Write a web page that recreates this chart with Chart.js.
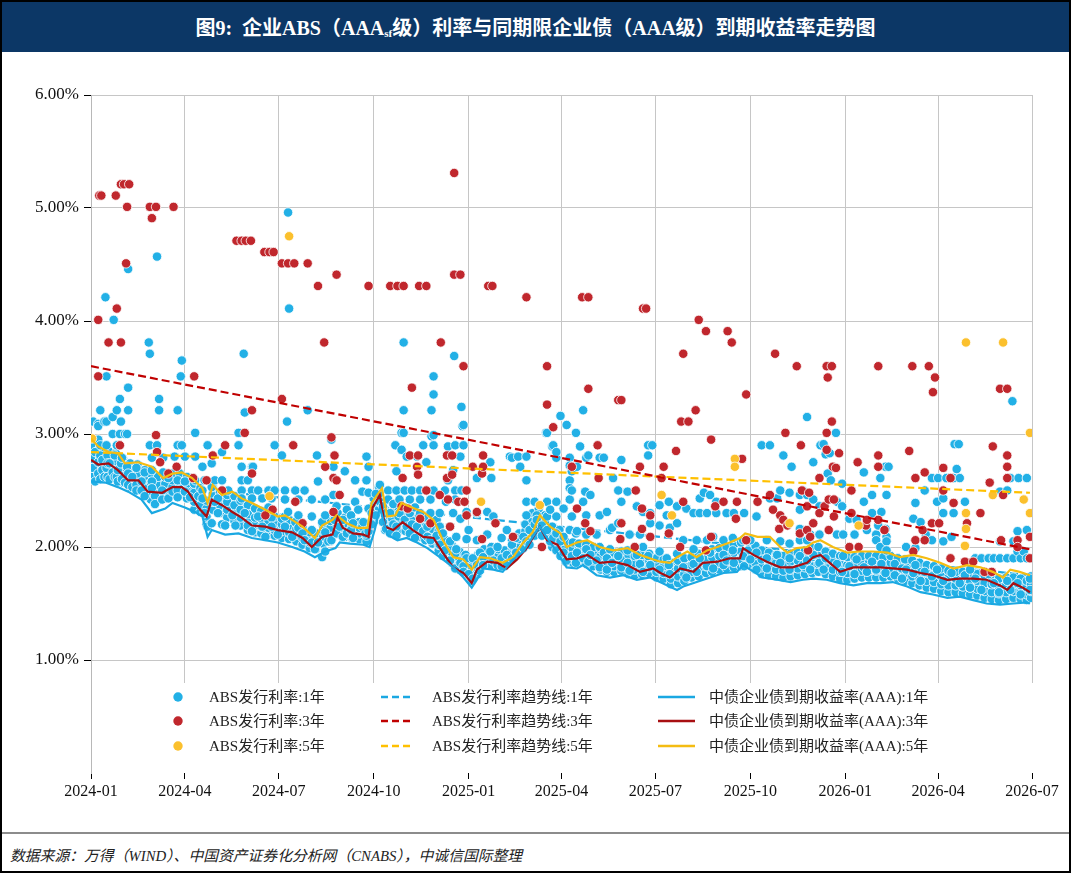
<!DOCTYPE html>
<html>
<head>
<meta charset="utf-8">
<script src="https://cdn.jsdelivr.net/npm/chart.js@4.4.1/dist/chart.umd.min.js"></script>
<style>
  html, body { margin: 0; padding: 0; background: #fff; }
  #frame { position: relative; width: 1067px; height: 869px; border: 2px solid #000; overflow: hidden; background: #fff; }
  #title { position: absolute; left: 0; top: 0; width: 1067px; height: 50px; background: #0c3766; color: #fff;
    font: bold 20px "Liberation Serif", "Noto Sans CJK SC", serif; text-align: center; line-height: 52px; }
  #title sub { font-size: 11px; vertical-align: -2px; line-height: 0; }
  #wrap { position: absolute; left: -2px; top: 50px; width: 1071px; height: 778px; }
  #rule { position: absolute; left: 0; top: 830px; width: 1067px; height: 2px; background: #8c8c8c; }
  #source { position: absolute; left: 8px; top: 842px; font: italic 14.8px "Liberation Serif", "Noto Sans CJK SC", serif; color: #222; }
</style>
</head>
<body>
<div id="frame">
  <div id="title">图9:&nbsp; 企业ABS（AAA<sub>sf</sub>级）利率与同期限企业债（AAA级）到期收益率走势图</div>
  <div id="wrap"><canvas id="chart" width="1071" height="778" style="width:1071px;height:778px"></canvas></div>
  <div id="rule"></div>
  <div id="source">数据来源：万得（WIND）、中国资产证券化分析网（CNABS），中诚信国际整理</div>
</div>
<script>
// x values are days counted from 2024-01-01
const xTickDays = [0, 91, 182, 274, 366, 456, 547, 639, 731, 821, 912];
const xTickLabels = ['2024-01', '2024-04', '2024-07', '2024-10', '2025-01', '2025-04',
  '2025-07', '2025-10', '2026-01', '2026-04', '2026-07'];

// 中债企业债到期收益率(AAA), [day, %]
const cb1y = [[0,2.58],[14,2.57],[26,2.53],[36,2.49],[49,2.42],[59,2.30],[72,2.34],[79,2.39],[91,2.35],[101,2.31],[108,2.27],[113,2.09],[117,2.15],[130,2.11],[143,2.12],[156,2.08],[169,2.06],[181,2.04],[195,2.00],[207,1.96],[217,1.91],[227,1.96],[237,1.99],[241,2.04],[251,2.03],[264,2.02],[270,2.00],[275,2.15],[280,2.35],[287,2.11],[297,2.06],[306,2.08],[316,2.04],[326,1.99],[332,1.95],[341,1.89],[351,1.82],[361,1.73],[369,1.64],[374,1.71],[380,1.81],[390,1.80],[399,1.78],[409,1.89],[419,1.96],[428,2.09],[435,2.18],[442,2.08],[452,1.95],[461,1.82],[471,1.81],[477,1.84],[490,1.75],[503,1.73],[516,1.75],[529,1.71],[542,1.73],[554,1.68],[568,1.62],[574,1.65],[587,1.69],[600,1.73],[613,1.77],[626,1.78],[632,1.84],[639,1.80],[651,1.73],[665,1.71],[678,1.69],[690,1.71],[700,1.72],[713,1.71],[726,1.68],[739,1.66],[752,1.68],[765,1.68],[777,1.69],[791,1.65],[804,1.60],[816,1.58],[830,1.55],[842,1.56],[855,1.53],[868,1.50],[881,1.49],[894,1.50],[907,1.51],[910,1.50]];
const cb3y = [[0,2.77],[7,2.73],[17,2.74],[26,2.68],[36,2.59],[46,2.59],[55,2.49],[69,2.48],[79,2.53],[88,2.53],[94,2.49],[104,2.35],[112,2.27],[117,2.42],[127,2.37],[137,2.31],[146,2.26],[156,2.19],[169,2.18],[181,2.15],[195,2.13],[205,2.08],[214,2.00],[224,2.09],[234,2.11],[239,2.26],[244,2.17],[254,2.12],[264,2.11],[269,2.09],[273,2.35],[280,2.46],[285,2.18],[293,2.15],[302,2.22],[312,2.15],[322,2.09],[332,2.08],[341,1.95],[351,1.82],[361,1.77],[369,1.68],[374,1.80],[384,1.87],[394,1.86],[403,1.81],[413,1.89],[423,2.00],[430,2.11],[435,2.18],[442,2.06],[452,2.02],[461,1.89],[471,1.90],[481,1.93],[493,1.86],[506,1.87],[520,1.84],[532,1.78],[545,1.81],[552,1.77],[561,1.73],[571,1.81],[584,1.78],[593,1.86],[607,1.87],[619,1.90],[629,1.90],[632,1.99],[642,1.93],[655,1.87],[668,1.82],[680,1.82],[694,1.86],[700,1.91],[707,1.93],[716,1.86],[726,1.78],[739,1.82],[752,1.82],[765,1.82],[777,1.81],[791,1.80],[804,1.77],[816,1.75],[830,1.71],[842,1.72],[855,1.72],[868,1.71],[881,1.66],[888,1.62],[894,1.68],[903,1.64],[910,1.60]];
const cb5y = [[0,2.96],[7,2.89],[17,2.84],[26,2.83],[33,2.74],[46,2.75],[59,2.71],[70,2.61],[79,2.65],[88,2.66],[98,2.61],[108,2.52],[113,2.39],[118,2.55],[127,2.46],[137,2.49],[146,2.43],[156,2.39],[169,2.33],[181,2.27],[188,2.28],[195,2.24],[205,2.18],[217,2.08],[224,2.19],[234,2.24],[238,2.28],[248,2.21],[258,2.17],[268,2.17],[272,2.39],[282,2.52],[287,2.27],[295,2.28],[301,2.39],[311,2.35],[322,2.31],[332,2.24],[341,2.06],[351,1.91],[361,1.89],[369,1.80],[377,1.91],[387,1.90],[399,1.86],[409,1.91],[419,2.04],[428,2.13],[435,2.28],[445,2.18],[455,2.12],[461,2.00],[471,2.04],[481,2.06],[493,2.00],[506,1.97],[520,1.99],[532,1.93],[545,1.89],[552,1.87],[561,1.86],[568,1.91],[578,1.96],[587,1.91],[597,1.97],[607,2.00],[619,2.04],[629,2.08],[634,2.12],[646,2.09],[658,2.09],[668,2.00],[675,1.95],[684,1.99],[694,2.00],[700,2.04],[707,2.06],[719,2.00],[733,1.95],[745,1.96],[758,1.96],[772,1.95],[784,1.91],[797,1.93],[810,1.90],[823,1.86],[836,1.81],[849,1.84],[862,1.82],[874,1.78],[884,1.73],[891,1.80],[900,1.78],[910,1.75]];

// ABS发行利率趋势线, end points [day, %]
const trend1y = [[0,2.61],[910,1.75]];
const trend3y = [[0,3.60],[910,1.98]];
const trend5y = [[0,2.84],[910,2.48]];

// ABS发行利率 dots, rows of [day, rate, rate, ...]
const abs1y = [
  [0,2.90,2.78,2.62],[2,3.11,2.70],[4,2.84,2.58],[7,3.09,3.07,2.95,2.75,2.65],[9,3.21,2.90,2.81,2.60],[11,2.77,2.68],
  [13,3.11,2.62],[14,4.21],[15,3.51,3.11,2.90,2.70],[16,2.81,2.74,2.62],[18,2.74,2.60],[21,3.15,3.00,2.66],[22,4.01],
  [23,2.81,2.62],[25,3.21,2.90,2.62],[26,2.68,2.58],[28,3.31,3.00],[29,3.11,2.74],[30,2.79,2.60],[33,3.00,2.57],
  [35,3.00,2.71],[36,4.46,3.41,3.21,2.65,2.55],[40,2.62,2.53],[44,2.70,2.55,2.50],[49,2.58,2.50],[52,2.66,2.45],
  [56,3.81],[57,3.71,2.90],[59,2.79,2.68,2.58,2.52],[62,2.45,2.38],[64,4.57,2.90],[66,3.31,3.21],[69,2.50,2.42],
  [70,2.79,2.66],[75,2.61,2.43],[79,2.49],[81,2.80],[84,3.21,2.90,2.59,2.50,2.44],[87,3.51],[88,3.65,2.90],
  [91,2.80,2.58,2.49],[96,2.44],[101,3.01,2.80,2.59],[104,2.45],[108,2.71,2.50,2.43],
  [110,2.59,2.30],[113,2.90,2.18],[117,2.74,2.53,2.21],[120,2.59,2.40],[123,2.43,2.30],[127,2.84,2.59,2.50,2.20],
  [130,2.19],[133,2.50],[137,2.28],[140,2.19],[143,3.01,2.90],[146,2.71,2.59,2.50,2.43],
  [148,3.71],[149,3.19,2.30],[152,2.59,2.19],[156,2.71,2.50,2.43,2.14],[157,2.71],[162,2.50,2.27],
  [166,2.43,2.18],[169,2.09],[172,2.50,2.35],[175,2.43,2.26,2.18],[178,2.90,2.50],[181,2.11],
  [185,2.81,2.25],[188,2.50,2.42,2.27,2.18],[190,3.11],[191,4.96,2.31],[192,4.11],[195,2.09],[198,2.50,2.22],
  [201,2.42,2.28,2.17],[205,2.12],[207,2.50,2.06],[210,3.21],[214,2.42,2.27,2.15,2.04],[217,1.98],
  [219,2.81],[220,2.58,2.04],[224,1.91,2.22],[227,2.42,2.28,2.13,1.96],[230,2.05],[233,2.95,2.06],[235,2.71,2.46],
  [236,2.24],[238,2.36,2.12],[241,2.18],[244,2.24,2.09],[246,2.67],[248,2.33,2.12],[252,2.28,2.15],
  [254,2.21,2.08],[256,2.59,2.40],[259,2.33],[263,2.49,2.18],[264,2.22],[266,2.12],[267,2.80,2.59],
  [269,2.71,2.48,2.34,2.14],[272,2.30,2.20],[276,2.47,2.28],[280,2.55,2.40],[283,2.36,2.22],[286,2.30,2.16],
  [288,2.50,2.42],[290,2.30,2.12],[293,2.38,2.20],[295,2.90],[296,2.67,2.50,2.18,2.10],[299,2.42,2.30],
  [301,3.01,2.86],[303,3.81,3.21,3.01],[304,2.50,2.24],[306,2.80,2.18],[309,2.42,2.30,2.12],[311,2.50,2.20],
  [314,2.35,2.08],[316,2.80,2.18],[319,2.50,2.42,2.30],[322,2.90,2.14],[325,2.75,2.50],[326,2.18,2.09],
  [329,2.42,2.30,2.06],[330,3.21,2.98],[332,3.51,3.35,2.99,2.90,2.50],[335,2.24,2.10],[338,2.30,2.18,2.02],
  [341,2.12,1.92],[343,2.50,1.97],[344,2.40],[346,2.89,2.59],[348,2.18,2.05,1.88],[351,2.68,2.30],[352,3.69],
  [353,2.90,2.50,2.42,1.94,1.81],[354,2.09,1.98],[358,2.80,2.25,1.86],[359,3.24,2.50],[360,3.07],[361,3.08,2.90,1.83,1.78],
  [364,2.31,2.07,1.90],[366,2.15,1.76],[370,1.90,1.72],[374,2.61,2.30,2.06,1.84],[377,1.95,1.79],[380,1.91,1.84],
  [384,2.31,2.11],[387,2.75,1.96],[388,2.61],[390,2.27,1.88],[394,2.00,1.84],[398,2.08,1.90,1.83],[403,2.15,1.93,1.85],
  [406,2.80],[408,2.79,2.02,1.90],[412,2.08,1.95],[414,2.80],[416,2.71],[419,2.09,1.99],[422,2.80,2.59,2.40,2.28,2.05],
  [425,2.15,2.02],[430,2.40,2.20,2.10],[432,2.28,2.24],[437,2.19,2.10],[441,3.01],[442,3.01,2.40,2.27,2.15],
  [445,2.33,2.05],[447,2.89],[448,2.90,2.08],[451,2.79,2.84,2.40,2.27,2.12,1.97],[455,3.16,2.05,1.92],[458,2.34,2.09,1.95],
  [461,3.08,1.88],[464,2.79,2.72,2.59,2.52,2.42,2.15],[466,2.67,2.50,2.27,1.92],[470,3.01,2.12,1.86],[471,2.71,2.14,1.95],
  [474,2.89],[477,3.21,2.40,1.90],[479,2.49],[480,2.79,2.28,2.11,1.98],[482,2.81,1.87],[484,2.46,1.93],[490,2.11,1.88],
  [493,2.79,2.28,2.00,1.82],[497,2.79,1.95],[500,2.31,1.90,1.80],[503,2.15,1.98],[505,2.17,1.86],[506,2.61],
  [511,2.50,2.21,1.92],[514,2.77,2.40,1.82],[520,2.49,1.97,1.86],[522,2.11,1.79],[529,2.36,1.93],[532,2.11,1.85],
  [535,2.31,2.00,1.78],[540,2.90,2.81,1.92],[542,2.30,2.21,1.84],[544,2.90],[551,2.37,2.19,1.96,1.80],[558,2.28,1.90],
  [560,2.40,1.84],[561,2.17,1.76],[568,2.36,2.21,1.94],[574,2.06,1.82],[577,2.34,1.73],[584,2.30,1.98,1.85],
  [587,2.06,1.78],[590,2.43,2.30,1.90],[594,2.48],[597,2.30,2.06,1.83],[600,2.46,1.95],[603,2.09,1.81],[606,2.40,2.30],
  [613,2.06,1.93,1.84],[616,2.30,1.88],[622,2.08,1.97],[623,2.30,1.86],[632,2.06,1.92],[633,2.30,1.83],[639,2.06,1.89],
  [645,2.27,1.95,1.80],[650,2.90],[655,2.06,1.90,1.81],[658,2.90,2.43],[665,2.43,1.93],[668,2.50,2.05,1.86],[671,2.81],
  [677,2.48,2.03,1.90,1.80],[679,2.71],[687,2.46,2.33,2.16,2.06,1.92],[690,2.50,1.84],[694,3.15,2.46,2.06,1.88],
  [697,2.11,1.80],[700,2.75,2.42,1.93],[706,2.36,2.11,1.86],[707,2.90],[710,2.91,1.80],[712,2.82,1.90],[714,2.65],
  [716,2.83],[717,2.59],[722,3.01],[723,2.40,2.11,1.85],[728,2.56,2.36,1.78],[729,2.11,1.92],[735,2.25,1.83],
  [740,2.11,1.76],[742,2.24,1.89],[749,2.66,2.40,1.82],[752,2.15,1.78],[757,2.46,2.30,1.87],[761,2.11,2.06,1.80],
  [763,2.19],[765,2.61,2.00],[766,2.31,1.85],[770,2.71,2.16,1.77],[771,2.46,2.09,2.05,1.97],[773,2.71],[779,1.85,1.75],
  [786,1.81,1.72],[790,2.00,1.80],[797,2.25,1.77],[799,2.39,1.99,1.84],[804,2.22,1.70],[808,2.50,1.78],[809,2.11],
  [815,2.61,2.06,1.74],[820,2.40,1.80],[821,2.61],[826,2.43,2.30,2.05,1.70],[829,2.61],[834,2.09,1.77],[836,2.61,2.30],
  [837,2.91],[839,2.69],[841,2.91],[842,2.61,1.68],[847,2.40,1.75],[852,1.80,1.64],[857,1.90,1.72],[863,1.90,1.62],
  [870,1.90,1.76],[875,1.90,1.68],[880,1.60],[881,2.49,2.05,1.90],[888,2.50,1.90,1.70],[891,2.61,1.62],[893,3.29],
  [894,2.05,1.90],[898,2.14,1.96,1.68],[899,2.61],[901,1.90,1.58],[904,1.96],[907,2.61,2.15,1.90],[910,1.72,1.62]
];
// the dense band of 1-year issues; in 2024 it sits on the 3Y curve, later it rests on the 1Y curve
const abs1yBand = [
  [3,2.68,2.75,2.82,2.90],[10,2.66,2.73,2.80,2.87],[17,2.66,2.73,2.79,2.85],[24,2.62,2.69,2.76,2.83],[31,2.57,2.64,2.71,2.78],
  [38,2.53,2.59,2.66,2.74],[45,2.52,2.58,2.65,2.73],[52,2.45,2.52,2.60,2.68],[58,2.42,2.49,2.57,2.65],[65,2.41,2.48,2.55,2.62],
  [72,2.43,2.50,2.56,2.62],[79,2.46,2.53,2.59,2.65],[86,2.46,2.53,2.59,2.65],[93,2.43,2.49,2.56,2.62],[100,2.33,2.40,2.48,2.56],
  [106,2.31,2.37,2.44,2.52],[112,2.20,2.27,2.34,2.41],[118,2.33,2.40,2.47,2.53],[125,2.30,2.37,2.43,2.48],[132,2.26,2.33,2.40,2.46],
  [139,2.23,2.30,2.37,2.45],[145,2.19,2.26,2.33,2.41],[152,2.15,2.22,2.29,2.37],[159,2.13,2.19,2.26,2.34],[165,2.12,2.18,2.25,2.32],
  [172,2.11,2.17,2.23,2.29],[178,2.10,2.15,2.21,2.27],[185,2.08,2.14,2.20,2.26],[192,2.07,2.13,2.19,2.24],[199,2.05,2.11,2.16,2.21],
  [205,2.02,2.08,2.13,2.18],[212,1.99,2.04,2.09,2.13],[218,1.98,2.03,2.08,2.12],[225,2.03,2.09,2.14,2.19],[232,2.05,2.11,2.17,2.23],
  [239,2.12,2.19,2.25,2.30],[246,2.09,2.15,2.21,2.26],[253,2.08,2.13,2.18,2.23],[260,2.07,2.12,2.17,2.22],[267,2.05,2.10,2.16,2.21],
  [274,2.22,2.30,2.37,2.43],[279,2.33,2.40,2.47,2.53],[285,2.15,2.21,2.27,2.33],[292,2.13,2.19,2.25,2.31],[298,2.14,2.20,2.27,2.35],
  [305,2.14,2.20,2.27,2.35],[312,2.12,2.17,2.24,2.31],[318,2.09,2.14,2.21,2.28],[324,2.06,2.11,2.18,2.26],[331,2.03,2.09,2.16,2.23],
  [337,1.97,2.02,2.08,2.14],[344,1.91,1.96,2.01,2.06],[350,1.86,1.90,1.95,2.01],[357,1.80,1.85,1.90,1.96],[363,1.77,1.81,1.86,1.93],
  [369,1.70,1.76,1.83,1.89],[375,1.76,1.81,1.87,1.93],[381,1.84,1.88,1.93,1.98],[388,1.84,1.89,1.94,2.00],[395,1.82,1.87,1.92,1.98],
  [401,1.83,1.87,1.92,1.97],[408,1.92,1.96,2.01,2.06],[415,1.97,2.02,2.07,2.12],[421,2.02,2.08,2.14,2.20],[428,2.12,2.18,2.24,2.30],
  [434,2.16,2.21,2.27,2.34],[440,2.11,2.16,2.22,2.28],[447,2.00,2.06,2.12,2.18],[454,1.98,2.03,2.09,2.15],[460,1.87,1.93,1.99,2.05],
  [467,1.86,1.92,1.98,2.04],[473,1.86,1.92,1.98,2.03],[480,1.85,1.90,1.96,2.02],[487,1.83,1.88,1.94,2.00],[494,1.80,1.86,1.92,1.98],
  [500,1.78,1.84,1.90,1.96],[507,1.78,1.83,1.89,1.95],[514,1.79,1.84,1.90,1.96],[521,1.76,1.81,1.87,1.93],[527,1.75,1.80,1.86,1.92],
  [534,1.76,1.81,1.87,1.93],[541,1.77,1.82,1.88,1.94],[548,1.73,1.78,1.84,1.90],[555,1.72,1.77,1.83,1.89],[562,1.67,1.72,1.79,1.86],
  [569,1.68,1.74,1.81,1.88],[575,1.70,1.76,1.83,1.90],[582,1.73,1.78,1.84,1.91],[589,1.74,1.80,1.87,1.94],[596,1.77,1.83,1.90,1.97],
  [602,1.78,1.84,1.91,1.98],[609,1.80,1.86,1.92,1.99],[616,1.81,1.87,1.93,2.00],[623,1.82,1.88,1.95,2.02],[630,1.83,1.89,1.96,2.04],
  [637,1.84,1.90,1.97,2.05],[644,1.80,1.86,1.93,2.01],[650,1.76,1.82,1.89,1.97],[657,1.75,1.81,1.88,1.95],[664,1.74,1.80,1.86,1.93],
  [671,1.73,1.79,1.85,1.92],[678,1.74,1.80,1.87,1.94],[685,1.75,1.81,1.88,1.95],[692,1.76,1.82,1.90,1.97],[699,1.77,1.83,1.91,1.99],
  [705,1.78,1.85,1.92,2.00],[712,1.76,1.82,1.89,1.96],[719,1.74,1.80,1.87,1.94],[726,1.72,1.78,1.85,1.92],[733,1.71,1.77,1.84,1.91],
  [740,1.72,1.78,1.85,1.91],[747,1.73,1.79,1.86,1.92],[754,1.73,1.79,1.86,1.92],[761,1.73,1.79,1.85,1.92],[768,1.73,1.79,1.85,1.91],
  [775,1.74,1.80,1.86,1.92],[782,1.72,1.78,1.84,1.90],[789,1.70,1.76,1.83,1.89],[796,1.68,1.74,1.81,1.88],[803,1.66,1.72,1.79,1.86],
  [810,1.64,1.70,1.77,1.84],[817,1.63,1.69,1.76,1.83],[824,1.61,1.67,1.74,1.81],[831,1.60,1.66,1.73,1.79],[838,1.60,1.66,1.72,1.78],
  [845,1.59,1.65,1.71,1.78],[852,1.58,1.64,1.70,1.77],[859,1.57,1.63,1.70,1.76],[866,1.55,1.61,1.68,1.75],[873,1.54,1.60,1.67,1.74],
  [880,1.53,1.59,1.65,1.72],[887,1.54,1.60,1.66,1.73],[894,1.55,1.61,1.67,1.73],[901,1.54,1.60,1.66,1.72],[907,1.53,1.58,1.64,1.70],
  [911,1.55,1.61,1.67,1.74]
];
const abs3y = [
  [7,4.01,3.51],[8,5.11],[10,5.11],[17,3.81],[24,5.11],[25,4.11],[28,2.90],[29,5.21,3.81],[32,5.21],[34,4.51],[35,5.01],
  [37,5.21],[57,5.01],[59,4.91],[63,5.01,2.99],[64,2.84],[67,2.75],[75,2.65],[80,5.01],[83,2.71],[99,2.61],[100,3.51],
  [112,2.59],[118,2.81],[127,2.50],[130,2.90],[141,4.71],[146,4.71],[149,3.01],[150,4.71],[155,4.71],[156,3.21,2.65],
  [168,4.61],[169,2.28],[173,4.61],[176,2.33],[177,4.61],[185,4.51,3.31],[191,4.51],[196,2.90],[197,4.51],[198,2.40],
  [205,2.21],[210,4.51],[220,4.31],[226,3.81],[227,2.71],[233,2.97],[235,2.61,2.31],[236,2.81],[238,4.41,2.59],[241,2.46],
  [269,4.31],[290,4.31],[297,4.31],[301,2.36],[302,2.61],[303,4.31],[307,2.34],[309,2.81],[311,3.41],[316,2.71],
  [317,2.81,2.64],[318,4.31],[319,2.25],[325,4.31,2.50],[329,2.21],[338,2.46],[339,3.81],[345,2.81,2.61],[346,2.42],
  [348,2.18],[350,2.81,2.64],[352,5.31,4.41],[356,2.40],[358,4.41],[361,3.60],[362,2.40],[364,2.50,2.28],[370,2.71],
  [374,2.31],[379,2.65,2.07],[380,2.81,2.71],[385,4.31],[389,4.31],[392,2.21],[409,2.09],[422,4.21],[437,2.00],
  [442,3.60,3.26],[448,3.06],[466,2.71],[471,2.34],[476,4.21],[479,2.21],[482,4.21,3.40],[484,2.14],[491,2.90],[492,2.61],
  [511,3.30],[513,2.07],[514,3.30,2.21],[527,2.00],[528,2.50],[532,2.71],[534,2.34,2.16],[535,4.11],[538,4.11],
  [542,2.28,2.09],[553,2.61],[555,2.71],[560,2.12],[567,2.85],[571,2.00],[572,3.11],[574,3.71,2.40],[579,3.11],[586,3.21],
  [589,4.01],[596,3.91,1.97],[601,2.95,2.09],[605,2.36],[613,2.40],[617,3.91],[621,3.81],[625,2.25],[626,2.40],[631,2.78],
  [635,3.35,2.06],[646,2.40],[658,2.46],[661,2.33],[663,3.71],[667,2.16],[668,2.28],[671,2.24],[673,3.01],[675,2.19],
  [684,3.60],[687,2.12],[688,2.90],[689,2.50],[694,2.36,2.15],[695,1.97],[696,2.48],[697,2.09],[700,2.21],[706,2.61,2.30],
  [711,2.36],[713,3.60,3.01,2.86],[714,3.50],[715,2.42,2.15],[718,3.60,3.11],[719,2.71],[720,2.42,2.27],[722,2.70],
  [725,2.83],[735,2.00],[737,2.50,2.30],[743,2.75],[744,2.00],[751,2.19],[752,2.24],[763,3.60,2.81,2.71,2.24],[769,2.15],
  [793,2.85],[796,3.60],[797,1.96],[799,2.61,2.06],[806,2.15],[808,2.66,2.06],[812,3.60],[815,2.21],[816,3.37],[818,3.50],
  [822,2.21],[826,2.70,2.50],[833,2.61,1.90],[836,2.39],[847,1.87],[849,2.21],[855,1.87],[862,2.30],[866,1.78],[871,2.57],
  [873,1.78],[874,2.89],[881,3.40],[882,2.06],[884,2.46],[888,3.40,2.81,2.71,2.61],[898,2.06,2.00],[910,2.09,1.90]
];
const abs5y = [
  [1,2.96],[173,2.45],[192,4.75],[378,2.40],[435,2.37],[553,2.46],[563,2.28],[624,2.78,2.71],[677,2.21],[744,2.19],
  [847,2.01],[848,3.81,2.30,2.16],[874,2.46],[884,3.81],[904,2.42],[910,3.01,2.30]
];

const C_BLUE = '#22b0e6', C_RED = '#c0272d', C_GOLD = '#fbc02d';
const L_BLUE = '#1aa8e2', L_RED = '#a80f12', L_GOLD = '#f4bc12';

function toPoints(rows) {
  const out = [];
  rows.forEach((r) => { for (let i = 1; i < r.length; i++) out.push({x: r[0], y: r[i]}); });
  return out;
}

function dots(label, rows, color, order) {
  return {type: 'scatter', label, data: toPoints(rows), order,
    backgroundColor: color, borderColor: '#fff', pointRadius: 4.7, pointBorderWidth: 0.8};
}
function line(label, rows, color, order, dash) {
  return {type: 'line', label, data: toPoints(rows), order, borderColor: color, backgroundColor: color,
    borderWidth: 2.2, pointRadius: 0, tension: 0, fill: false, borderDash: dash || []};
}

const legendRows = [
  [{kind: 'dot', color: C_BLUE, text: 'ABS发行利率:1年'}, {kind: 'dash', color: L_BLUE, text: 'ABS发行利率趋势线:1年'}, {kind: 'line', color: L_BLUE, text: '中债企业债到期收益率(AAA):1年'}],
  [{kind: 'dot', color: C_RED, text: 'ABS发行利率:3年'}, {kind: 'dash', color: '#c00000', text: 'ABS发行利率趋势线:3年'}, {kind: 'line', color: L_RED, text: '中债企业债到期收益率(AAA):3年'}],
  [{kind: 'dot', color: C_GOLD, text: 'ABS发行利率:5年'}, {kind: 'dash', color: '#ffc000', text: 'ABS发行利率趋势线:5年'}, {kind: 'line', color: L_GOLD, text: '中债企业债到期收益率(AAA):5年'}]
];

// legend drawn inside the plot, 3 columns x 3 rows, on a white box
const gridLegend = {
  id: 'gridLegend',
  afterDraw(chart) {
    const {ctx, chartArea} = chart;
    const boxTop = 631;
    ctx.save();
    ctx.fillStyle = '#fff';
    ctx.fillRect(chartArea.left + 1, boxTop, chartArea.right - chartArea.left + 1, chartArea.bottom - boxTop);
    const rowY = [645, 669, 694];
    const cols = [{mark: 178, text: 209}, {mark: 381, text: 432}, {mark: 658, text: 709}];
    ctx.font = '15px "Liberation Serif", "Noto Sans CJK SC", serif';
    ctx.textBaseline = 'middle';
    legendRows.forEach((row, ri) => {
      row.forEach((item, ci) => {
        const y = rowY[ri], c = cols[ci];
        if (item.kind === 'dot') {
          ctx.beginPath();
          ctx.arc(c.mark, y, 4.7, 0, Math.PI * 2);
          ctx.fillStyle = item.color;
          ctx.fill();
        } else {
          ctx.beginPath();
          ctx.strokeStyle = item.color;
          ctx.lineWidth = 2.5;
          ctx.setLineDash(item.kind === 'dash' ? [7, 4] : []);
          ctx.moveTo(c.mark, y);
          ctx.lineTo(c.mark + (item.kind === 'dash' ? 30 : 37), y);
          ctx.stroke();
          ctx.setLineDash([]);
        }
        ctx.fillStyle = '#222';
        ctx.fillText(item.text, c.text, y + 1);
      });
    });
    ctx.restore();
  }
};

const serif = '"Liberation Serif", "Noto Sans CJK SC", serif';

new Chart(document.getElementById('chart').getContext('2d'), {
  type: 'scatter',
  data: {
    datasets: [
      line('中债企业债到期收益率(AAA):1年', cb1y, L_BLUE, 1),
      line('中债企业债到期收益率(AAA):3年', cb3y, L_RED, 1),
      line('中债企业债到期收益率(AAA):5年', cb5y, L_GOLD, 1),
      line('ABS发行利率趋势线:3年', trend3y, '#c00000', 2, [8, 4]),
      line('ABS发行利率趋势线:5年', trend5y, '#ffc000', 2, [8, 4]),
      dots('ABS发行利率:5年', abs5y, C_GOLD, 3),
      dots('ABS发行利率:3年', abs3y, C_RED, 4),
      dots('ABS发行利率:1年', abs1y, C_BLUE, 5),
      dots('ABS发行利率:1年 ', abs1yBand, C_BLUE, 5),
      line('ABS发行利率趋势线:1年', trend1y, L_BLUE, 6, [8, 4])
    ]
  },
  options: {
    responsive: false,
    animation: false,
    layout: {padding: {top: 43, right: 39, left: 0, bottom: 0}},
    plugins: {legend: {display: false}, tooltip: {enabled: false}},
    scales: {
      x: {
        type: 'linear', min: 0, max: 912,
        afterBuildTicks: (axis) => { axis.ticks = xTickDays.map((v) => ({value: v})); },
        afterFit: (s) => { s.height = 57; },
        ticks: {autoSkip: false, maxRotation: 0, padding: 3, color: '#111', font: {family: serif, size: 16},
          callback: (v, i) => xTickLabels[i]},
        grid: {color: '#c6c6c6', lineWidth: 1, tickColor: '#000', tickLength: 6},
        border: {display: false}
      },
      y: {
        min: 0, max: 6,
        afterFit: (s) => { s.width = 91; },
        ticks: {stepSize: 1, padding: 5, color: '#111', font: {family: serif, size: 17},
          callback: (v) => (v === 0 ? '' : v.toFixed(2) + '%')},
        grid: {
          color: (c) => (c.tick && c.tick.value === 0 ? 'rgba(0,0,0,0)' : '#c6c6c6'),
          tickColor: (c) => (c.tick && c.tick.value === 0 ? 'rgba(0,0,0,0)' : '#000'),
          lineWidth: 1, tickLength: 7
        },
        border: {display: true, color: '#b8b8b8', width: 1}
      }
    }
  },
  plugins: [gridLegend]
});
</script>
</body>
</html>
